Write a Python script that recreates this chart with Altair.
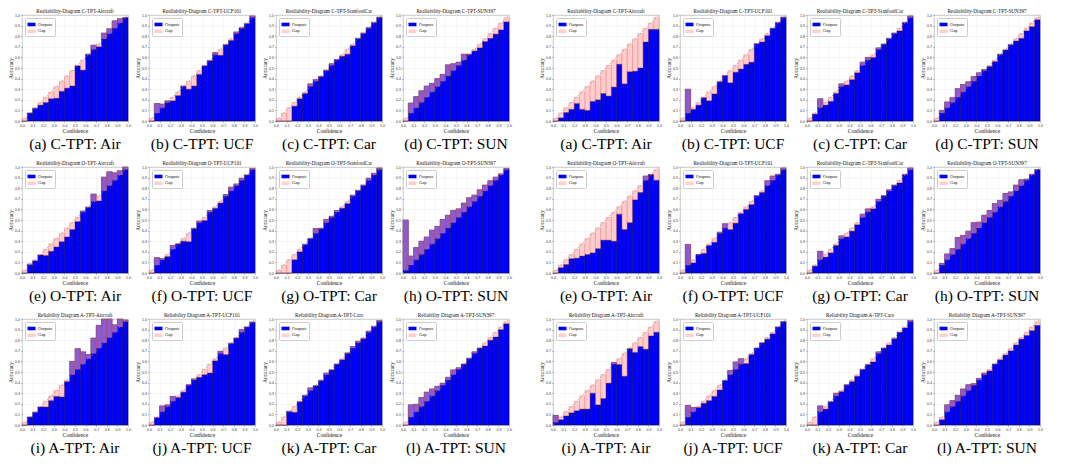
import altair as alt
import pandas as pd

# ---------------- data (accuracy per confidence bin, 20 bins of width 0.05) ----------------
EDGES = [i / 20 for i in range(21)]

# Row 1, left figure
C_AIR_L = [0, 0.075, 0.12, 0.15, 0.175, 0.21, 0.215, 0.28, 0.31, 0.33, 0.52, 0.48, 0.63, 0.715, 0.70, 0.83, 0.87, 0.945, 0.965, 0.975]
C_UCF_L = [0, 0.165, 0.16, 0.19, 0.19, 0.24, 0.33, 0.30, 0.33, 0.44, 0.52, 0.57, 0.645, 0.62, 0.72, 0.76, 0.84, 0.88, 0.92, 0.99]
C_CAR_L = [0, 0, 0, 0.14, 0.21, 0.26, 0.35, 0.39, 0.42, 0.48, 0.54, 0.58, 0.61, 0.63, 0.71, 0.78, 0.83, 0.88, 0.93, 0.98]
C_SUN_L = [0, 0.17, 0.23, 0.285, 0.33, 0.355, 0.40, 0.44, 0.53, 0.54, 0.555, 0.63, 0.63, 0.66, 0.69, 0.75, 0.78, 0.82, 0.86, 0.935]
# Row 1, right figure
C_AIR_R = [0, 0.03, 0.08, 0.11, 0.165, 0.11, 0.10, 0.185, 0.20, 0.26, 0.235, 0.32, 0.535, 0.35, 0.465, 0.47, 0.50, 0.745, 0.865, 0.865]
C_UCF_R = [0, 0.30, 0.11, 0.15, 0.22, 0.19, 0.255, 0.37, 0.43, 0.36, 0.46, 0.49, 0.535, 0.555, 0.73, 0.745, 0.805, 0.875, 0.93, 0.98]
C_CAR_R = [0, 0.065, 0.21, 0.15, 0.185, 0.26, 0.35, 0.34, 0.39, 0.455, 0.555, 0.60, 0.60, 0.69, 0.725, 0.78, 0.83, 0.85, 0.93, 0.99]
C_SUN_R = [0, 0.10, 0.18, 0.22, 0.305, 0.345, 0.37, 0.42, 0.455, 0.485, 0.515, 0.56, 0.63, 0.67, 0.72, 0.755, 0.78, 0.85, 0.89, 0.955]
# Row 2, left figure
O_AIR_L = [0, 0.085, 0.115, 0.17, 0.165, 0.205, 0.245, 0.295, 0.34, 0.41, 0.485, 0.585, 0.62, 0.745, 0.68, 0.905, 0.955, 0.945, 0.965, 1.0]
O_UCF_L = [0, 0.145, 0.135, 0.155, 0.26, 0.275, 0.30, 0.295, 0.42, 0.49, 0.495, 0.59, 0.61, 0.66, 0.74, 0.81, 0.84, 0.895, 0.925, 0.985]
O_CAR_L = [0, 0, 0, 0.125, 0.20, 0.27, 0.325, 0.42, 0.42, 0.505, 0.535, 0.59, 0.61, 0.655, 0.735, 0.78, 0.83, 0.895, 0.94, 0.99]
O_SUN_L = [0.50, 0.16, 0.24, 0.30, 0.34, 0.405, 0.44, 0.505, 0.545, 0.59, 0.605, 0.66, 0.71, 0.735, 0.785, 0.83, 0.87, 0.905, 0.935, 0.985]
# Row 2, right figure
O_AIR_R = [0, 0.05, 0.08, 0.135, 0.14, 0.16, 0.175, 0.19, 0.23, 0.31, 0.31, 0.30, 0.555, 0.41, 0.475, 0.69, 0.76, 0.915, 0.93, 0.875]
O_UCF_R = [0, 0.27, 0.095, 0.175, 0.185, 0.26, 0.29, 0.385, 0.465, 0.41, 0.47, 0.56, 0.60, 0.645, 0.73, 0.76, 0.87, 0.915, 0.93, 0.99]
O_CAR_R = [0, 0.065, 0.205, 0.15, 0.19, 0.26, 0.35, 0.34, 0.395, 0.455, 0.555, 0.605, 0.605, 0.695, 0.73, 0.785, 0.83, 0.85, 0.93, 0.99]
O_SUN_R = [0, 0.09, 0.18, 0.23, 0.335, 0.355, 0.395, 0.475, 0.48, 0.545, 0.59, 0.655, 0.685, 0.75, 0.765, 0.83, 0.88, 0.885, 0.93, 0.975]
# Row 3, left figure
A_AIR_L = [0, 0.075, 0.12, 0.17, 0.17, 0.23, 0.27, 0.265, 0.41, 0.60, 0.72, 0.69, 0.665, 0.82, 0.94, 1.0, 1.0, 0.945, 1.0, 0.99]
A_UCF_L = [0, 0.07, 0.18, 0.19, 0.27, 0.26, 0.31, 0.38, 0.435, 0.45, 0.475, 0.49, 0.605, 0.695, 0.665, 0.77, 0.82, 0.90, 0.925, 0.97]
A_CAR_L = [0, 0, 0.13, 0.12, 0.22, 0.28, 0.35, 0.37, 0.42, 0.49, 0.52, 0.575, 0.615, 0.68, 0.74, 0.79, 0.815, 0.885, 0.93, 0.985]
A_SUN_L = [0, 0.19, 0.195, 0.26, 0.31, 0.34, 0.365, 0.395, 0.45, 0.52, 0.54, 0.575, 0.63, 0.69, 0.725, 0.745, 0.80, 0.83, 0.90, 0.955]
# Row 3, right figure
A_AIR_R = [0.09, 0.05, 0.085, 0.115, 0.135, 0.15, 0.15, 0.30, 0.19, 0.25, 0.395, 0.59, 0.57, 0.46, 0.72, 0.685, 0.74, 0.715, 0.84, 0.875]
A_UCF_R = [0, 0.185, 0.165, 0.165, 0.205, 0.23, 0.27, 0.33, 0.42, 0.515, 0.595, 0.625, 0.58, 0.665, 0.725, 0.775, 0.81, 0.86, 0.925, 0.975]
A_CAR_R = [0, 0, 0.18, 0.15, 0.22, 0.30, 0.315, 0.38, 0.41, 0.46, 0.525, 0.57, 0.595, 0.69, 0.725, 0.755, 0.815, 0.875, 0.915, 0.985]
A_SUN_R = [0, 0.05, 0.19, 0.23, 0.28, 0.34, 0.38, 0.39, 0.44, 0.49, 0.51, 0.575, 0.615, 0.66, 0.70, 0.755, 0.81, 0.845, 0.89, 0.94]

TITLES_1 = ["Realiability-Diagram C-TPT-Aircraft", "Realiability-Diagram C-TPT-UCF101",
            "Realiability-Diagram C-TPT-StanfordCar", "Realiability-Diagram C-TPT-SUN397"]
TITLES_2L = ["Realiability-Diagram O-TPT-Aircraft", "Realiability-Diagram O-TPT-UCF101",
             "Realiability-Diagram O-TPT-StanfordCar", "Realiability-Diagram O-TPT-SUN397"]
TITLES_2R = ["Realiability-Diagram O-TPT-Aircraft", "Realiability-Diagram O-TPT-UCF101",
             "Realiability-Diagram C-TPT-StanfordCar", "Realiability-Diagram O-TPT-SUN397"]
TITLES_3 = ["Reliability Diagram A-TPT-Aircraft", "Reliability Diagram A-TPT-UCF101",
            "Reliability Diagram A-TPT-Cars", "Reliability Diagram A-TPT-SUN397"]
CAPS_1 = ["(a) C-TPT: Air", "(b) C-TPT: UCF", "(c) C-TPT: Car", "(d) C-TPT: SUN"]
CAPS_2 = ["(e) O-TPT: Air", "(f) O-TPT: UCF", "(g) O-TPT: Car", "(h) O-TPT: SUN"]
CAPS_3 = ["(i) A-TPT: Air", "(j) A-TPT: UCF", "(k) A-TPT: Car", "(l) A-TPT: SUN"]
TICKS = [0.0, 0.1, 0.2, 0.3, 0.4, 0.5, 0.6, 0.7, 0.8, 0.9, 1.0]
SERIES = ["Outputs", "Gap"]

# ---------------- styling ----------------
W, H = 106, 106
BLUE = "#0000ff"
GAPC = "rgba(255,165,165,0.55)"
SERIF = "Times New Roman, Liberation Serif, serif"


def panel(acc, title, caption):
    lo = EDGES[:-1]
    hi = EDGES[1:]
    conf = [(a + b) / 2 for a, b in zip(lo, hi)]
    bars_df = pd.DataFrame({"lo": lo, "hi": hi, "acc": acc, "zero": [0.0] * 20, "series": SERIES[0]})
    gap_df = pd.DataFrame({"lo": lo, "hi": hi,
                           "g1": [min(a, c) for a, c in zip(acc, conf)],
                           "g2": [max(a, c) for a, c in zip(acc, conf)],
                           "series": SERIES[1]})
    diag_df = pd.DataFrame({"v": [0.0, 1.0]})
    title_df = pd.DataFrame({"t": [title]})

    sc = alt.Scale(domain=[0, 1], nice=False, zero=False)
    xax = alt.Axis(values=TICKS, format=".1f", title="Confidence")
    yax = alt.Axis(values=TICKS, format=".1f", title="Accuracy")
    color = alt.Color("series:N", scale=alt.Scale(domain=SERIES, range=[BLUE, GAPC]),
                      legend=alt.Legend(title=None, orient="top-left"))

    bars = alt.Chart(bars_df).mark_rect(stroke="#000033", strokeWidth=0.45).encode(
        x=alt.X("lo:Q", scale=sc, axis=xax), x2="hi:Q",
        y=alt.Y("acc:Q", scale=sc, axis=yax), y2="zero:Q",
        color=color)
    gaps = alt.Chart(gap_df).mark_rect(stroke="rgba(255,40,40,0.45)", strokeWidth=0.45).encode(
        x=alt.X("lo:Q", scale=sc, axis=xax), x2="hi:Q",
        y=alt.Y("g1:Q", scale=sc, axis=yax), y2="g2:Q",
        color=color)
    diag = alt.Chart(diag_df).mark_line(color="#888888", strokeWidth=0.6, strokeDash=[2, 1.5]).encode(
        x=alt.X("v:Q", scale=sc, axis=xax), y=alt.Y("v:Q", scale=sc, axis=yax))
    ttl = alt.Chart(title_df).mark_text(font=SERIF, fontSize=5.2, baseline="bottom", align="center",
                                        color="#111111").encode(
        x=alt.value(W / 2), y=alt.value(-1.5), text="t:N")
    return alt.layer(bars, gaps, diag, ttl).properties(
        width=W, height=H,
        title=alt.TitleParams(caption, orient="bottom", font=SERIF, fontSize=15.5,
                              fontWeight="normal", offset=3, anchor="middle", color="#000000"))


def group(accs, titles, caps):
    return alt.hconcat(*[panel(a, t, c) for a, t, c in zip(accs, titles, caps)], spacing=4).resolve_scale(
        color="independent").resolve_legend(color="independent")


def row(left, right):
    return alt.hconcat(left, right, spacing=27).resolve_scale(color="independent").resolve_legend(
        color="independent")


r1 = row(group([C_AIR_L, C_UCF_L, C_CAR_L, C_SUN_L], TITLES_1, CAPS_1),
         group([C_AIR_R, C_UCF_R, C_CAR_R, C_SUN_R], TITLES_1, CAPS_1))
r2 = row(group([O_AIR_L, O_UCF_L, O_CAR_L, O_SUN_L], TITLES_2L, CAPS_2),
         group([O_AIR_R, O_UCF_R, O_CAR_R, O_SUN_R], TITLES_2R, CAPS_2))
r3 = row(group([A_AIR_L, A_UCF_L, A_CAR_L, A_SUN_L], TITLES_3, CAPS_3),
         group([A_AIR_R, A_UCF_R, A_CAR_R, A_SUN_R], TITLES_3, CAPS_3))

chart = alt.vconcat(r1, r2, r3, spacing=7).resolve_scale(color="independent").resolve_legend(
    color="independent").properties(padding=0).configure_view(
    stroke="#b8b8b8", strokeWidth=0.8
).configure_axis(
    labelFontSize=3.6, labelColor="#333333", labelPadding=1, tickSize=1.5, tickWidth=0.5,
    tickColor="#777777", domain=False, grid=True, gridColor="#dcdcdc", gridDash=[1, 1],
    gridWidth=0.5, titleFont=SERIF, titleFontSize=5.5, titleFontWeight="normal",
    titlePadding=1, titleColor="#111111", labelFlush=False
).configure_legend(
    orient="top-left", offset=3, padding=2.5, fillColor="white", strokeColor="#cccccc",
    cornerRadius=1, labelFont=SERIF, labelFontSize=4.5, labelColor="#111111",
    symbolType="M-1,-0.45H1V0.45H-1Z", symbolSize=64, symbolStrokeWidth=0,
    rowPadding=0.8, labelOffset=2.5, symbolOpacity=1
)

chart.save("out.html", embed_options={"renderer": "svg", "actions": False})
